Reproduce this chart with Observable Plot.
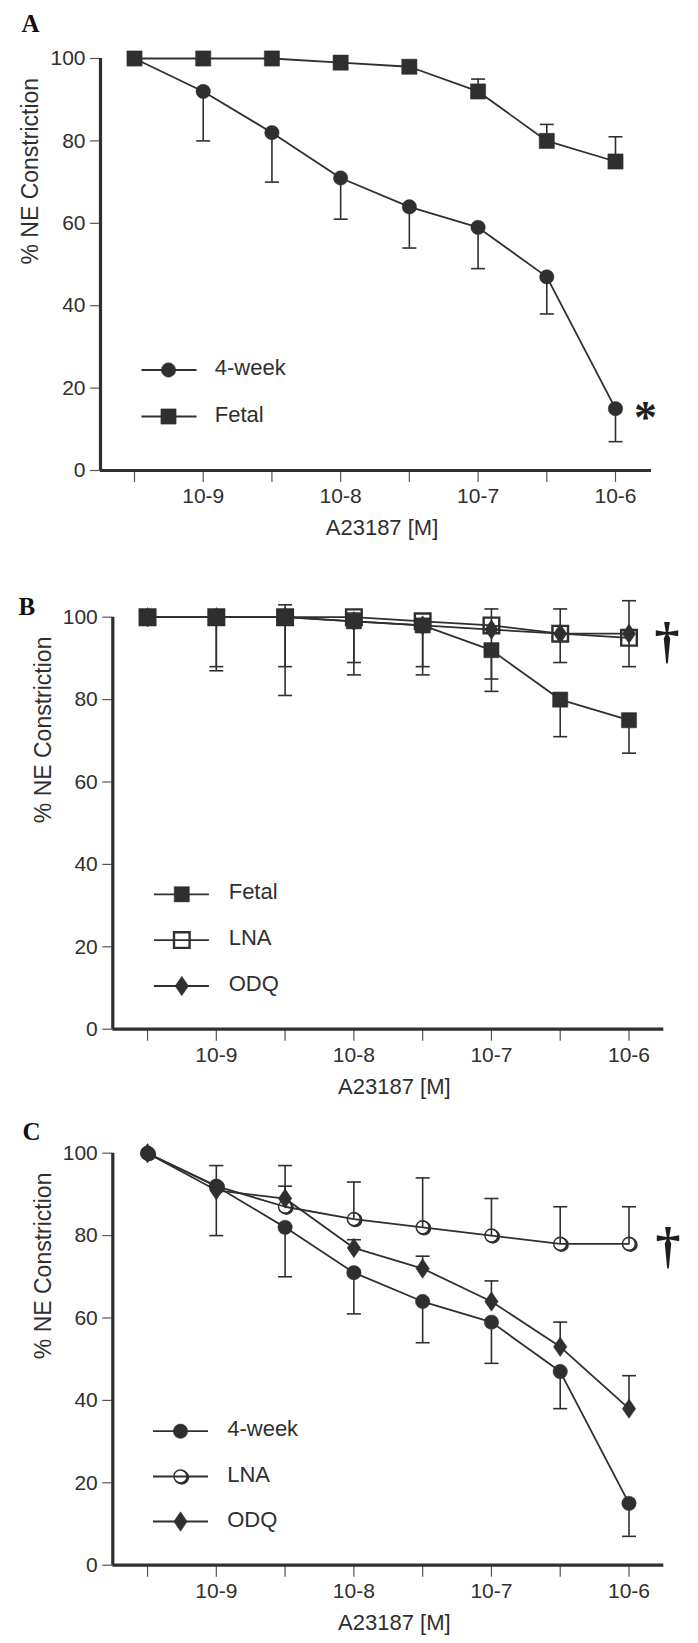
<!DOCTYPE html>
<html><head><meta charset="utf-8">
<script src="https://cdn.jsdelivr.net/npm/d3@7"></script>
<script src="https://cdn.jsdelivr.net/npm/@observablehq/plot@0.6"></script>
<style>
html,body{margin:0;padding:0;background:#fff;}
#page{position:relative;width:698px;height:1643px;overflow:hidden;background:#fff;}
.panel{position:absolute;left:0;}
</style></head><body><div id="page"></div>
<script>
// ---------- data ----------
const logConc = [-9.5, -9, -8.5, -8, -7.5, -7, -6.5, -6];
const tickLabels = ["", "10-9", "", "10-8", "", "10-7", "", "10-6"];
const yTicks = [0, 20, 40, 60, 80, 100];
const xTitle = "A23187 [M]";
const yTitle = "% NE Constriction";

// Panel A
const aWeek4   = [100, 92, 82, 71, 64, 59, 47, 15];
const aWeek4Lo = [null, 80, 70, 61, 54, 49, 38, 7];
const aFetal   = [100, 100, 100, 99, 98, 92, 80, 75];
const aFetalHi = [null, null, null, null, null, 95, 84, 81];

// Panel B
const bFetal   = [100, 100, 100, 99, 98, 92, 80, 75];
const bFetalLo = [null, null, null, null, null, 82, 71, 67];
const bLNA     = [100, 100, 100, 100, 99, 98, 96, 95];
const bLNAHi   = [null, null, null, 101, null, 102, null, null];
const bLNALo   = [null, 87, 81, 86, 86, null, 89, 88];
const bODQ     = [100, 100, 100, 99, 98, 97, 96, 96];
const bODQHi   = [null, null, 103, null, null, null, 102, 104];
const bODQLo   = [null, 88, 88, 89, 88, 85, null, null];

// Panel C
const cWeek4   = [100, 92, 82, 71, 64, 59, 47, 15];
const cWeek4Lo = [null, 80, 70, 61, 54, 49, 38, 7];
const cLNA     = [100, 92, 87, 84, 82, 80, 78, 78];
const cLNAHi   = [null, 97, 92, 93, 94, 89, 87, 87];
const cODQ     = [100, 91, 89, 77, 72, 64, 53, 38];
const cODQHi   = [null, null, 97, 79, 75, 69, 59, 46];

// ---------- helpers ----------
const ink = "#2f2f2f";
const tickInk = "#555";
const W = 698;
const labelMap = new Map(logConc.map((d, i) => [d, tickLabels[i]]));

const rowsOf = (ys, err) => logConc.map((x, i) => ({x, y: ys[i], e: err ? err[i] : null}));
const errRows = (ys, err) => rowsOf(ys, err).filter(d => d.e != null);

const sym = {
  hline: {draw(c, s) { const r = Math.sqrt(s / Math.PI); c.moveTo(-r, 0); c.lineTo(r, 0); }},
  square: {draw(c, s) { const r = Math.sqrt(s / Math.PI); c.rect(-r, -r, 2 * r, 2 * r); }},
  diamond: {draw(c, s) { const r = Math.sqrt(s / Math.PI); c.moveTo(0, -1.45 * r); c.lineTo(r, 0); c.lineTo(0, 1.45 * r); c.lineTo(-r, 0); c.closePath(); }},
  // ring that is thick on the lower right (shadowed open circle)
  shadowRing: {draw(c, s) {
    const r = Math.sqrt(s / Math.PI);
    const ox = 0.19 * r, oy = 0.12 * r, R = 1.03 * r, ri = 0.82 * r;
    c.moveTo(ox + R, oy); c.arc(ox, oy, R, 0, 2 * Math.PI, false);
    c.moveTo(ri, 0); c.arc(0, 0, ri, 0, 2 * Math.PI, true);
  }}
};

function markers(kind, data, opts) {
  switch (kind) {
    case "circle":
      return [Plot.dot(data, {...opts, symbol: "circle", r: 7.2, fill: ink, stroke: ink, strokeWidth: 0.5})];
    case "square":
      return [Plot.dot(data, {...opts, symbol: sym.square, r: 7.6, fill: ink, stroke: ink, strokeWidth: 0.5})];
    case "openSquare":
      return [Plot.dot(data, {...opts, symbol: sym.square, r: 7.8, fill: "none", stroke: ink, strokeWidth: 2.4})];
    case "diamond":
      return [Plot.dot(data, {...opts, symbol: sym.diamond, r: 6.7, fill: ink, stroke: ink, strokeWidth: 0.5})];
    case "openCircle":
      return [
        Plot.dot(data, {...opts, symbol: sym.shadowRing, r: 7.1, fill: ink, stroke: "none"}),
        Plot.dot(data, {...opts, symbol: "circle", r: 6.6, fill: "none", stroke: ink, strokeWidth: 1.3})
      ];
  }
}

function panel(cfg) {
  const {top, height, mt, mb, ml, mr, xdom, series, drawOrder, legend, letter, notes} = cfg;
  const marks = [];
  // axes
  marks.push(Plot.axisY(yTicks, {tickSize: 10, tickPadding: 5, label: null, stroke: tickInk, strokeWidth: 1.2, fontSize: 21}));
  marks.push(Plot.axisX(logConc, {tickSize: 12, tickPadding: 6, label: null, tickFormat: d => labelMap.get(d), stroke: tickInk, strokeWidth: 1.2, fontSize: 21}));
  // connecting lines
  for (const s of series) marks.push(Plot.line(rowsOf(s.ys), {x: "x", y: "y", stroke: ink, strokeWidth: 1.8}));
  // error bars
  for (const s of series) {
    for (const err of [s.lo, s.hi]) {
      if (!err) continue;
      const rows = errRows(s.ys, err);
      marks.push(Plot.ruleX(rows, {x: "x", y1: "y", y2: "e", stroke: ink, strokeWidth: 1.6}));
      marks.push(Plot.dot(rows, {x: "x", y: "e", symbol: sym.hline, r: 7, stroke: ink, strokeWidth: 1.6, fill: "none"}));
    }
  }
  // markers
  for (const name of drawOrder) {
    const s = series.find(d => d.name === name);
    marks.push(...markers(s.kind, rowsOf(s.ys), {x: "x", y: "y"}));
  }
  // axis lines
  marks.push(Plot.ruleX([xdom[0]], {stroke: ink, strokeWidth: 3.2}));
  marks.push(Plot.ruleY([0], {stroke: ink, strokeWidth: 3.2}));
  // titles
  marks.push(Plot.text([yTitle], {text: d => d, frameAnchor: "left", rotate: -90, dx: -69.5, fontSize: 23, fill: ink}));
  marks.push(Plot.text([xTitle], {text: d => d, frameAnchor: "bottom", dx: 6, dy: 57.5, lineAnchor: "middle", fontSize: 22, fill: ink}));
  // panel letter
  marks.push(Plot.text([letter.text], {text: d => d, frameAnchor: "top-left", dx: letter.x - ml, dy: letter.base - mt, textAnchor: "start", lineAnchor: "bottom", fontFamily: "Liberation Serif, serif", fontWeight: "bold", fontSize: 25, fill: "#111"}));
  // legend
  for (const row of legend.rows) {
    const s = series.find(d => d.name === row.name);
    marks.push(Plot.dot([0], {frameAnchor: "top-left", dx: legend.lineDx, dy: row.dy, symbol: sym.hline, r: 27.5, stroke: ink, strokeWidth: 1.8, fill: "none"}));
    marks.push(...markers(s.kind, [0], {frameAnchor: "top-left", dx: legend.markerDx, dy: row.dy}));
    marks.push(Plot.text([s.name], {text: d => d, frameAnchor: "top-left", dx: legend.textDx, dy: row.dy - 2, textAnchor: "start", lineAnchor: "middle", fontSize: 22, fill: ink}));
  }
  // significance notes
  for (const n of notes) {
    marks.push(Plot.text([n], {x: d => d.x, y: d => d.y, text: d => d.text, dx: n.dx, dy: n.dy, fontFamily: "Liberation Serif, serif", fontWeight: "bold", fontSize: n.size, lineAnchor: "middle", fill: "#1e1e1e"}));
  }

  const svg = Plot.plot({
    width: W, height,
    marginTop: mt, marginBottom: mb, marginLeft: ml, marginRight: mr,
    x: {domain: xdom},
    y: {domain: [0, 100]},
    style: {fontFamily: "Liberation Sans, Arial, sans-serif", fontSize: "21px", color: ink, background: "white", overflow: "visible"},
    marks
  });
  const div = document.createElement("div");
  div.className = "panel";
  div.style.top = top + "px";
  div.appendChild(svg);
  document.getElementById("page").appendChild(div);
}

// ---------- panels ----------
panel({
  top: 0, height: 560, mt: 58, mb: 90, ml: 100, mr: 47,
  xdom: [-9.7474, -5.738],
  series: [
    {name: "4-week", kind: "circle", ys: aWeek4, lo: aWeek4Lo},
    {name: "Fetal", kind: "square", ys: aFetal, hi: aFetalHi}
  ],
  drawOrder: ["4-week", "Fetal"],
  legend: {lineDx: 68.5, markerDx: 68, textDx: 114.3, rows: [{name: "4-week", dy: 311.5}, {name: "Fetal", dy: 358}]},
  letter: {text: "A", x: 21, base: 31},
  notes: [{x: -6, y: aWeek4[7], text: "*", dx: 30, dy: 10, size: 46}]
});

panel({
  top: 560, height: 540, mt: 56.7, mb: 71.3, ml: 112.3, mr: 34.7,
  xdom: [-9.7525, -5.747],
  series: [
    {name: "Fetal", kind: "square", ys: bFetal, lo: bFetalLo},
    {name: "LNA", kind: "openSquare", ys: bLNA, lo: bLNALo, hi: bLNAHi},
    {name: "ODQ", kind: "diamond", ys: bODQ, lo: bODQLo, hi: bODQHi}
  ],
  drawOrder: ["LNA", "Fetal", "ODQ"],
  legend: {lineDx: 68.6, markerDx: 69, textDx: 115.9, rows: [{name: "Fetal", dy: 277.1}, {name: "LNA", dy: 322.9}, {name: "ODQ", dy: 368.8}]},
  letter: {text: "B", x: 18, base: 614 - 560},
  notes: [{x: -6, y: bODQ[7], text: "\u2020", dx: 38, dy: 7, size: 50}]
});

panel({
  top: 1100, height: 543, mt: 52.7, mb: 78.3, ml: 112.3, mr: 34.7,
  xdom: [-9.7525, -5.747],
  series: [
    {name: "4-week", kind: "circle", ys: cWeek4, lo: cWeek4Lo},
    {name: "LNA", kind: "openCircle", ys: cLNA, hi: cLNAHi},
    {name: "ODQ", kind: "diamond", ys: cODQ, hi: cODQHi}
  ],
  drawOrder: ["LNA", "ODQ", "4-week"],
  legend: {lineDx: 67.7, markerDx: 67.7, textDx: 114.4, rows: [{name: "4-week", dy: 278}, {name: "LNA", dy: 323.3}, {name: "ODQ", dy: 368.3}]},
  letter: {text: "C", x: 22, base: 1139 - 1100},
  notes: [{x: -6, y: cLNA[7], text: "\u2020", dx: 39, dy: 2, size: 50}]
});
</script>
</body></html>
